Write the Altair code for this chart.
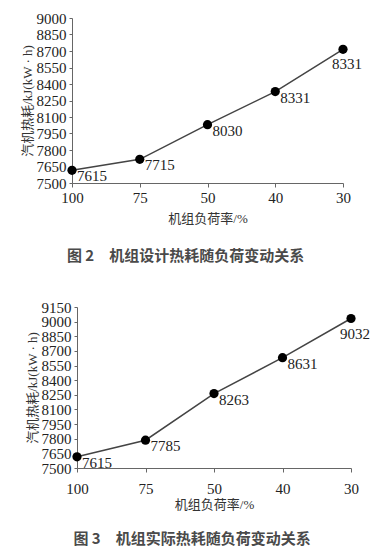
import altair as alt
import pandas as pd

loads = ["100", "75", "50", "40", "30"]
design_values = [7615, 7715, 8030, 8331, 8715]
design_labels = ["7615", "7715", "8030", "8331", "8331"]
actual_values = [7615, 7785, 8263, 8631, 9032]
actual_labels = ["7615", "7785", "8263", "8631", "9032"]
design_ticks = [7500, 7650, 7800, 7950, 8100, 8250, 8400, 8550, 8700, 8850, 9000]
actual_ticks = [7500, 7650, 7800, 7950, 8100, 8250, 8400, 8550, 8700, 8850, 9000, 9150]

x_title = "机组负荷率/%"
y_title = "汽机热耗/kJ(kW · h)"
caption1 = "图 2　机组设计热耗随负荷变动关系"
caption2 = "图 3　机组实际热耗随负荷变动关系"

SERIF = "Liberation Serif, Noto Sans CJK SC"
NUM_FONT = "Liberation Serif"


def panel(values, labels, ticks, caption, w, h, x_label_pad, x_title_pad, cap_offset):
    df = pd.DataFrame({"load": loads, "heat": values, "label": labels})
    x = alt.X(
        "load:O",
        sort=loads,
        scale=alt.Scale(padding=0),
        axis=alt.Axis(
            title=x_title, labelAngle=0, tickSize=4, labelPadding=x_label_pad, titlePadding=x_title_pad,
            labelFont=NUM_FONT, labelFontSize=15, labelColor="#222",
            titleFont=SERIF, titleFontSize=13, titleFontWeight="normal", titleColor="#333",
            domainColor="#666", tickColor="#666",
        ),
    )
    y = alt.Y(
        "heat:Q",
        scale=alt.Scale(domain=[ticks[0], ticks[-1]], nice=False, zero=False),
        axis=alt.Axis(
            values=ticks, format="d", title=y_title, grid=False, tickSize=3,
            labelPadding=3, titlePadding=2, labelOverlap=False,
            labelFont=NUM_FONT, labelFontSize=15, labelColor="#222",
            titleFont=SERIF, titleFontSize=13, titleFontWeight="normal", titleColor="#333",
            domainColor="#666", tickColor="#666",
        ),
    )
    base = alt.Chart(df).encode(x=x, y=y)
    line = base.mark_line(color="#444", strokeWidth=1.5)
    pts = base.mark_point(filled=True, color="#000", size=85, opacity=1)
    txt_r = base.transform_filter(alt.datum.load != "30").mark_text(
        align="left", baseline="middle", dx=5, dy=6, font=NUM_FONT, fontSize=15, color="#222"
    ).encode(text="label:N")
    txt_b = base.transform_filter(alt.datum.load == "30").mark_text(
        align="center", baseline="middle", dx=4, dy=15, font=NUM_FONT, fontSize=15, color="#222"
    ).encode(text="label:N")
    return alt.layer(line, pts, txt_r, txt_b).properties(
        width=w,
        height=h,
        title=alt.TitleParams(
            caption, orient="bottom", anchor="middle", dx=-22, offset=cap_offset,
            font="Noto Sans CJK SC", fontSize=15, fontWeight="bold", color="#4a4a4a",
        ),
    )


spacer_df = pd.DataFrame({"a": [0]})
spacer = alt.Chart(spacer_df).mark_point(opacity=0).encode(
    x=alt.value(0), y=alt.value(0)
).properties(width=1, height=1)

chart1 = panel(design_values, design_labels, design_ticks, caption1, 271, 165, 3, 7, 24)
chart2 = panel(actual_values, actual_labels, actual_ticks, caption2, 274, 161, 9, 2, 21)

row2 = alt.hconcat(spacer, chart2, spacing=4, bounds="flush")

chart = alt.vconcat(chart1, row2, spacing=124, bounds="flush").properties(
    padding={"left": 12, "top": 2, "right": 0, "bottom": 0},
).configure_view(stroke="transparent")

chart.save("out.html", embed_options={"renderer": "svg", "actions": False})
